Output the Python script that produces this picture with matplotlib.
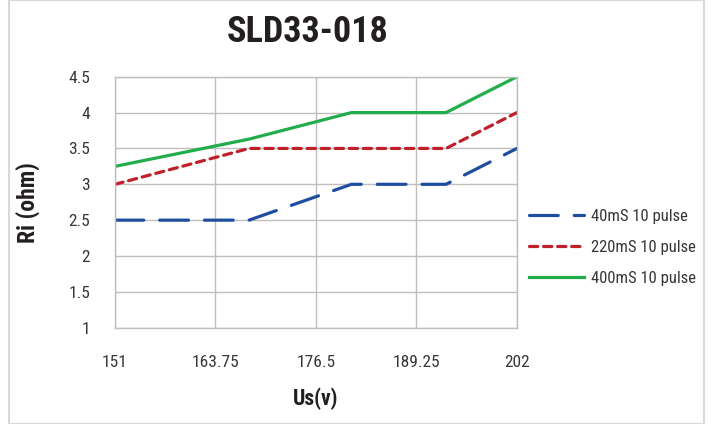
import matplotlib
matplotlib.use("Agg")
import matplotlib.pyplot as plt
from matplotlib.patches import Rectangle

# Data
us_v = [151, 168, 181, 193, 202]
ri_40ms = [2.5, 2.5, 3.0, 3.0, 3.5]
ri_220ms = [3.0, 3.5, 3.5, 3.5, 4.0]
ri_400ms = [3.25, 3.63, 4.0, 4.0, 4.5]
x_ticks = [151, 163.75, 176.5, 189.25, 202]
x_tick_labels = ["151", "163.75", "176.5", "189.25", "202"]
y_ticks = [1, 1.5, 2, 2.5, 3, 3.5, 4, 4.5]
y_tick_labels = ["1", "1.5", "2", "2.5", "3", "3.5", "4", "4.5"]

plt.rcParams["font.family"] = ["Roboto Condensed", "DejaVu Sans"]

fig = plt.figure(figsize=(7.13, 4.24), dpi=100)
ax = fig.add_axes([0.1613, 0.2271, 0.5637, 0.5919])

ax.plot(us_v, ri_40ms, color="#1f4ea0", lw=2.3, dashes=(9, 5),
        dash_capstyle="round", label="40mS 10 pulse")
ax.plot(us_v, ri_220ms, color="#c0202a", lw=2.3, dashes=(2.6, 1.8),
        dash_capstyle="round", label="220mS 10 pulse")
ax.plot(us_v, ri_400ms, color="#22ad4c", lw=2.3, label="400mS 10 pulse")

ax.set_xlim(151, 202)
ax.set_ylim(1, 4.5)
ax.set_xticks(x_ticks)
ax.set_xticklabels(x_tick_labels)
ax.set_yticks(y_ticks)
ax.set_yticklabels(y_tick_labels)
ax.tick_params(length=0, labelsize=12.5, colors="#3a3536")
ax.tick_params(axis="x", pad=19.5)
ax.tick_params(axis="y", pad=18)
ax.grid(True, color="#bfbfbf", lw=1)
ax.set_axisbelow(True)
for s in ax.spines.values():
    s.set_color("#bfbfbf")
    s.set_linewidth(1)

ax.set_xlabel("Us(v)", fontsize=15.5, fontweight="bold", color="#231f20", labelpad=13)
ax.set_ylabel("Ri (ohm)", fontsize=17, fontweight="bold", color="#231f20", labelpad=20)
fig.text(0.432, 0.925, "SLD33-018", ha="center", va="center",
         fontsize=26, fontweight="bold", color="#231f20")

ax.legend(loc="center left", bbox_to_anchor=(0.993, 0.32), frameon=False,
          fontsize=12, handlelength=3.3, labelspacing=0.95, handletextpad=0.42,
          labelcolor="#3a3536")

# light frame around the picture
fig.patches.append(Rectangle((0.012, 0.0), 0.976, 1.0, transform=fig.transFigure,
                             fill=False, edgecolor="#d9d9d9", lw=1.5))

fig.savefig("out.png", dpi=100)
